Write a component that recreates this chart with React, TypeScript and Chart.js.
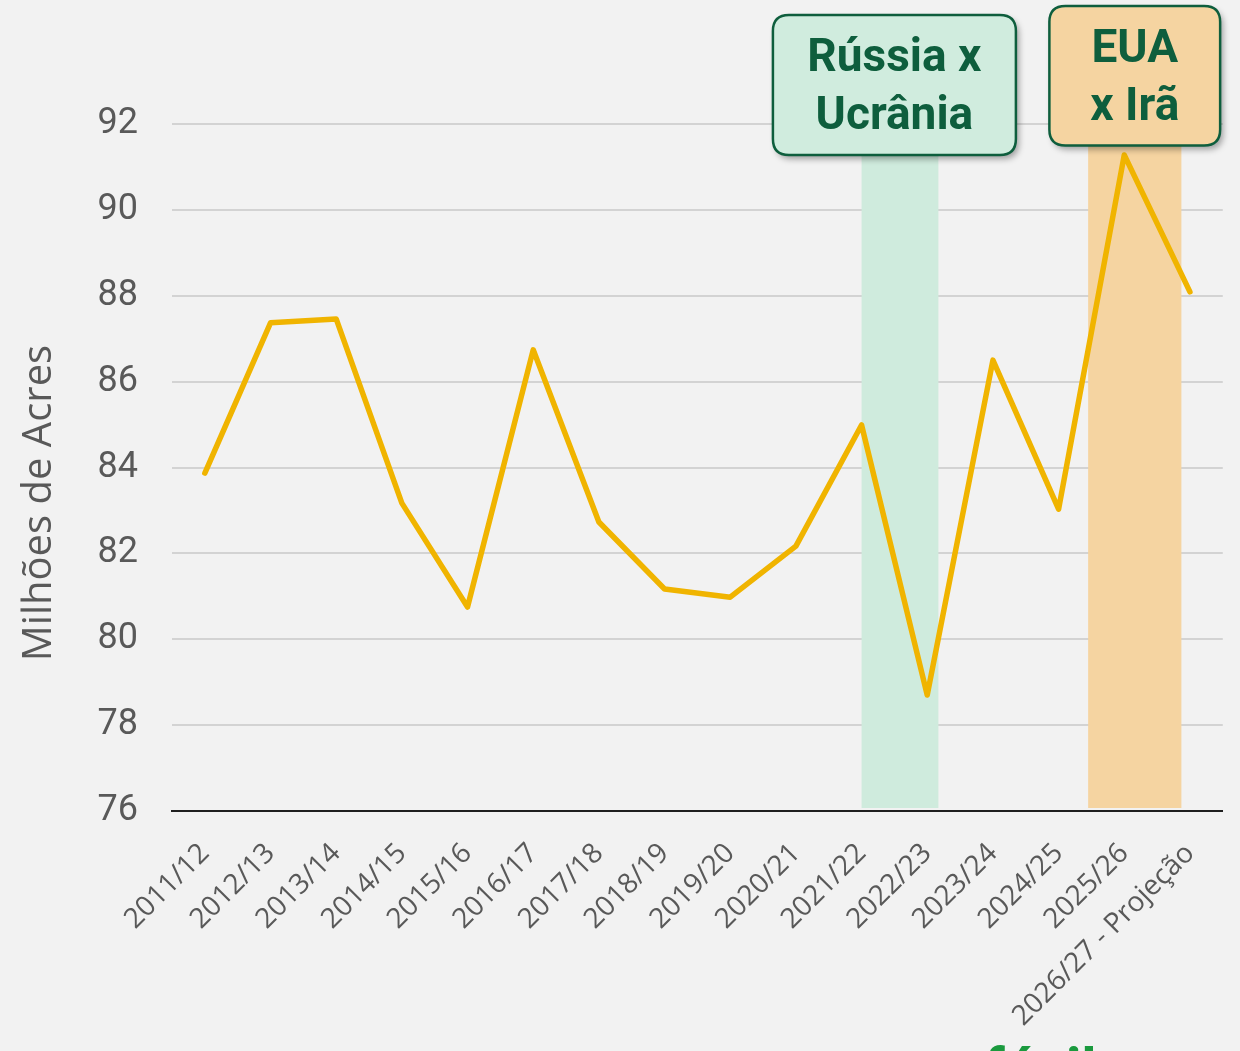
import React, { useEffect, useRef } from "react";
import { Chart, registerables } from "chart.js";

Chart.register(...registerables);

const categories = [
  "2011/12", "2012/13", "2013/14", "2014/15", "2015/16", "2016/17", "2017/18", "2018/19",
  "2019/20", "2020/21", "2021/22", "2022/23", "2023/24", "2024/25", "2025/26", "2026/27 - Projeção",
];
const acres = [
  83.87, 87.37, 87.46, 83.17, 80.75, 86.74, 82.73, 81.17,
  80.98, 82.17, 84.99, 78.7, 86.5, 83.03, 91.28, 88.09,
];
const yTicks = [76, 78, 80, 82, 84, 86, 88, 90, 92];
const yTitle = "Milhões de Acres";

// shaded periods, in category-index units
const bandStart = [10.0, 13.45];
const bandEnd = [11.17, 14.87];
const bandColors = ["#cfebdd", "#f5d4a1"];

// annotation boxes: center index, top/bottom in value units
const boxLabels = [["Rússia x", "Ucrânia"], ["EUA", "x Irã"]];
const boxCenter = [10.5, 14.16];
const boxHalfWidth = [1.85, 1.3];
const boxTop = [94.54, 94.75];
const boxBottom = [91.28, 91.5];
const boxFill = ["#d0ecde", "#f5d4a1"];

const FONT = "Roboto, 'Noto Sans', sans-serif";
const FONT2 = "'Open Sans', Roboto, sans-serif";
const TEXT = "#595959";
const DARK_GREEN = "#0e5e3d";

function roundRect(ctx: CanvasRenderingContext2D, x: number, y: number, w: number, h: number, r: number) {
  ctx.beginPath();
  ctx.moveTo(x + r, y);
  ctx.lineTo(x + w - r, y);
  ctx.quadraticCurveTo(x + w, y, x + w, y + r);
  ctx.lineTo(x + w, y + h - r);
  ctx.quadraticCurveTo(x + w, y + h, x + w - r, y + h);
  ctx.lineTo(x + r, y + h);
  ctx.quadraticCurveTo(x, y + h, x, y + h - r);
  ctx.lineTo(x, y + r);
  ctx.quadraticCurveTo(x, y, x + r, y);
  ctx.closePath();
}

function idxToPx(scale: any, v: number) {
  const a = scale.getPixelForValue(0);
  const b = scale.getPixelForValue(1);
  return a + (b - a) * v;
}

const bandsPlugin = {
  id: "bands",
  beforeDatasetsDraw(chart: any) {
    const { ctx, scales } = chart;
    const x = scales.x;
    const y = scales.y;
    ctx.save();
    for (let i = 0; i < bandStart.length; i++) {
      const x0 = idxToPx(x, bandStart[i]);
      const x1 = idxToPx(x, bandEnd[i]);
      const top = y.getPixelForValue(93);
      const bottom = y.getPixelForValue(76) - 3;
      ctx.fillStyle = bandColors[i];
      ctx.fillRect(x0, top, x1 - x0, bottom - top);
    }
    ctx.restore();
  },
};

const boxesPlugin = {
  id: "boxes",
  afterDraw(chart: any) {
    const { ctx, scales } = chart;
    const x = scales.x;
    const y = scales.y;
    for (let i = 0; i < boxLabels.length; i++) {
      const xl = idxToPx(x, boxCenter[i] - boxHalfWidth[i]);
      const xr = idxToPx(x, boxCenter[i] + boxHalfWidth[i]);
      const yt = y.getPixelForValue(boxTop[i]);
      const yb = y.getPixelForValue(boxBottom[i]);
      ctx.save();
      ctx.shadowColor = "rgba(0,0,0,0.35)";
      ctx.shadowBlur = 6;
      ctx.shadowOffsetX = 3;
      ctx.shadowOffsetY = 4;
      roundRect(ctx, xl, yt, xr - xl, yb - yt, 16);
      ctx.fillStyle = boxFill[i];
      ctx.fill();
      ctx.restore();
      ctx.save();
      roundRect(ctx, xl, yt, xr - xl, yb - yt, 16);
      ctx.lineWidth = 2.5;
      ctx.strokeStyle = DARK_GREEN;
      ctx.stroke();
      ctx.fillStyle = DARK_GREEN;
      ctx.font = `bold 46px ${FONT}`;
      ctx.textAlign = "center";
      ctx.textBaseline = "middle";
      const cx = (xl + xr) / 2;
      const cy = (yt + yb) / 2 + 4;
      const lines = boxLabels[i];
      const lh = 58;
      lines.forEach((t, k) => {
        ctx.fillText(t, cx, cy + (k - (lines.length - 1) / 2) * lh);
      });
      ctx.restore();
    }
    // y-axis title
    ctx.save();
    ctx.translate(40, 503);
    ctx.rotate(-Math.PI / 2);
    ctx.fillStyle = TEXT;
    ctx.font = `40px ${FONT2}`;
    ctx.textAlign = "center";
    ctx.textBaseline = "middle";
    ctx.fillText(yTitle, 0, 0);
    ctx.restore();
    // partial logo at the bottom edge
    ctx.save();
    ctx.fillStyle = "#1a9a3e";
    ctx.font = `bold 58px ${FONT}`;
    ctx.textAlign = "left";
    ctx.textBaseline = "alphabetic";
    ctx.fillText("fácil", 984, 1089);
    ctx.restore();
  },
};

export default function App() {
  const ref = useRef<HTMLCanvasElement | null>(null);
  useEffect(() => {
    document.body.style.margin = "0";
    document.body.style.background = "#f2f2f2";
    if (!ref.current) return;
    const chart = new Chart(ref.current, {
      type: "line",
      data: {
        labels: categories,
        datasets: [
          {
            data: acres,
            borderColor: "#f0b400",
            borderWidth: 5.5,
            pointRadius: 0,
            tension: 0,
            borderJoinStyle: "round",
            borderCapStyle: "round",
            fill: false,
          },
        ],
      },
      options: {
        animation: false,
        responsive: false,
        maintainAspectRatio: false,
        layout: { padding: { top: 124, right: 10, left: 0, bottom: 0 } },
        plugins: { legend: { display: false }, tooltip: { enabled: false } },
        scales: {
          x: {
            offset: true,
            grid: { display: false, drawTicks: false },
            border: { display: true, color: "#1f1f1f", width: 2 },
            ticks: {
              color: TEXT,
              font: { family: FONT2, size: 28 },
              maxRotation: 45,
              minRotation: 45,
              padding: 26,
              autoSkip: false,
            },
            afterFit(scale: any) {
              scale.height = 240;
            },
          },
          y: {
            min: 76,
            max: 92,
            afterBuildTicks(scale: any) {
              scale.ticks = yTicks.map((v) => ({ value: v }));
            },
            grid: { color: "#d3d3d3", lineWidth: 2, drawTicks: false },
            border: { display: false },
            ticks: {
              color: TEXT,
              font: { family: FONT, size: 36 },
              padding: 34,
            },
            title: { display: false },
            afterFit(scale: any) {
              scale.width = 172;
            },
          },
        },
      },
      plugins: [bandsPlugin, boxesPlugin],
    });
    return () => chart.destroy();
  }, []);
  return (
    <div style={{ width: 1240, height: 1051, background: "#f2f2f2" }}>
      <canvas ref={ref} width={1240} height={1051} style={{ display: "block" }} />
    </div>
  );
}
